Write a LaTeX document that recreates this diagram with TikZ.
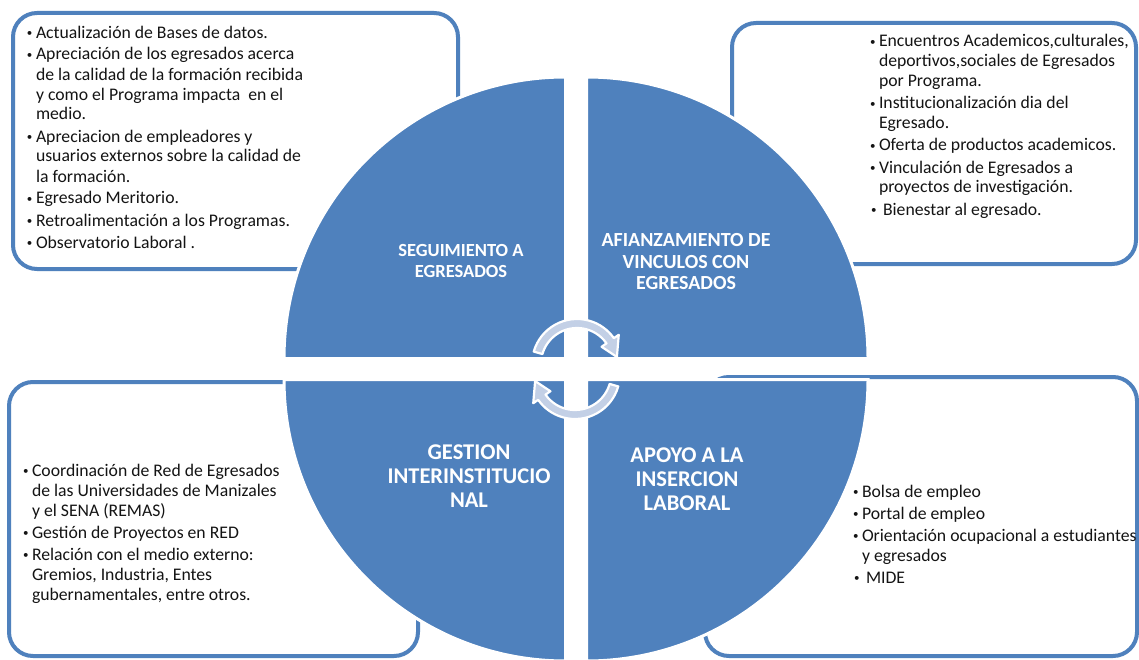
\documentclass[tikz,border=0pt]{standalone}
\usepackage{fontspec}
\setmainfont{Carlito}
\usetikzlibrary{calc}
\definecolor{quadblue}{HTML}{4F81BD}
\definecolor{arrowfill}{HTML}{C3D0E6}
\definecolor{bodytext}{HTML}{141414}
% small bullet with a hanging indent, and the indent of a continuation line
\newcommand{\bitem}{\makebox[10pt][l]{\hspace*{1pt}\raisebox{1.8pt}{\fontsize{11}{11}\selectfont\textbullet}}}
\newcommand{\bcont}{\hspace*{10pt}}
\newcommand{\firststrut}{\rule{0pt}{14pt}}
\begin{document}
\begin{tikzpicture}[x=1pt,y=-1pt,
  listbox/.style={draw=quadblue, line width=4pt, rounded corners=24pt, fill=white},
  quad/.style={fill=quadblue, draw=white, line width=3pt},
  title/.style={text=white, align=center, inner sep=0pt},
  items/.style={anchor=north west, align=left, inner sep=0pt, outer sep=0pt,
    text=bodytext, font=\fontsize{17.7}{20}\selectfont},
  cyclearrow/.style={fill=arrowfill, draw=white, line width=2.2pt, line join=round}]
\useasboundingbox (0,0) rectangle (1139,660);
\fill[white] (0,0) rectangle (1139,660);

% rounded list boxes behind the circle
\draw[listbox] (13,13) rectangle (458,269);
\draw[listbox] (732,23) rectangle (1136,264);
\draw[listbox] (9,382) rectangle (418,656);
\draw[listbox] (705,377) rectangle (1137,656);

% box contents
\node[items] (seglist) at (26,24) {\firststrut\bitem Actualización de Bases de datos.\\[2pt]
\bitem Apreciación de los egresados acerca\\
\bcont de la calidad de la formación recibida\\
\bcont y como el Programa impacta\ \ en el\\
\bcont medio.\\[2pt]
\bitem Apreciacion de empleadores y\\
\bcont usuarios externos sobre la calidad de\\
\bcont la formación.\\[2pt]
\bitem Egresado Meritorio.\\[2pt]
\bitem Retroalimentación a los Programas.\\[2pt]
\bitem Observatorio Laboral .};

\node[items] (vinlist) at (869,33) {\firststrut\bitem Encuentros Academicos,culturales,\\
\bcont deportivos,sociales de Egresados\\
\bcont por Programa.\\[2pt]
\bitem Institucionalización dia del\\
\bcont Egresado.\\[2pt]
\bitem Oferta de productos academicos.\\[2pt]
\bitem Vinculación de Egresados a\\
\bcont proyectos de investigación.\\[2pt]
\hspace*{1pt}\bitem\hspace*{3pt}Bienestar al egresado.};

\node[items] (gestlist) at (22,462) {\firststrut\bitem Coordinación de Red de Egresados\\
\bcont de las Universidades de Manizales\\
\bcont y el SENA (REMAS)\\[2pt]
\bitem Gestión de Proyectos en RED\\[2pt]
\bitem Relación con el medio externo:\\
\bcont Gremios, Industria, Entes\\
\bcont gubernamentales, entre otros.};

\node[items] (apolist) at (852,483) {\firststrut\bitem Bolsa de empleo\\[2pt]
\bitem Portal de empleo\\[2pt]
\bitem Orientación ocupacional a estudiantes\\
\bcont y egresados\\[2pt]
\hspace*{1pt}\bitem\hspace*{3pt}MIDE};

% the four quarter discs
\filldraw[quad] (565.5,358.5) -- ++(-281.5,0) arc[start angle=180, end angle=270, radius=281.5] -- cycle;
\filldraw[quad] (586.5,358.5) -- ++(0,-281.5) arc[start angle=270, end angle=360, radius=281.5] -- cycle;
\filldraw[quad] (586.5,379.5) -- ++(281.5,0) arc[start angle=0, end angle=90, radius=281.5] -- cycle;
\filldraw[quad] (565.5,379.5) -- ++(0,281.5) arc[start angle=90, end angle=180, radius=281.5] -- cycle;

% quadrant titles
\node[title, font=\bfseries\fontsize{18.5}{21}\selectfont] (segtitle) at (461,261) {SEGUIMIENTO A\\EGRESADOS};
\node[title, font=\bfseries\fontsize{20}{21.5}\selectfont] (vintitle) at (686,262) {AFIANZAMIENTO DE\\VINCULOS CON\\EGRESADOS};
\node[title, font=\bfseries\fontsize{22.5}{24}\selectfont] (gesttitle) at (469,476) {GESTION\\INTERINSTITUCIO\\NAL};
\node[title, font=\bfseries\fontsize{22.5}{24}\selectfont] (apotitle) at (687,479) {APOYO A LA\\INSERCION\\LABORAL};

% the two curved cycle arrows in the middle
\coordinate (c1) at (577,364);
\coordinate (c2) at (575,374);
\filldraw[cyclearrow] ($(c1)+(196:45)$) arc[start angle=196, end angle=325, radius=45]
  -- ($(c1)+(325:51)$) -- ($(c1)+(350:40.5)$) -- ($(c1)+(325:30)$)
  -- ($(c1)+(325:36)$) arc[start angle=325, end angle=196, radius=36] -- cycle;
\filldraw[cyclearrow] ($(c2)+(16:45)$) arc[start angle=16, end angle=145, radius=45]
  -- ($(c2)+(145:51)$) -- ($(c2)+(170:40.5)$) -- ($(c2)+(145:30)$)
  -- ($(c2)+(145:36)$) arc[start angle=145, end angle=16, radius=36] -- cycle;
\end{tikzpicture}
\end{document}
